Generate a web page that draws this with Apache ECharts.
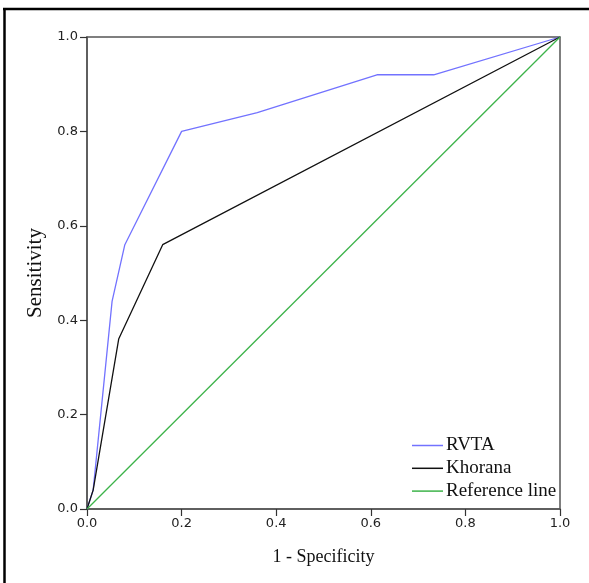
<!DOCTYPE html>
<html>
<head>
<meta charset="utf-8">
<script src="https://cdn.jsdelivr.net/npm/echarts@6/dist/echarts.min.js"></script>
<style>html,body{margin:0;padding:0;background:#fff;}#c{width:589px;height:583px;}</style>
</head>
<body>
<div id="c"></div>
<script>
var rvtaX = [0, 0.013, 0.053, 0.08, 0.2, 0.36, 0.613, 0.733, 1];
var rvtaY = [0, 0.04, 0.44, 0.56, 0.8, 0.84, 0.92, 0.92, 1];
var khoranaX = [0, 0.013, 0.067, 0.16, 1];
var khoranaY = [0, 0.04, 0.36, 0.56, 1];
var refX = [0, 1];
var refY = [0, 1];
var tickLabels = ['0.0', '0.2', '0.4', '0.6', '0.8', '1.0'];

function pairs(xs, ys) { return xs.map(function (x, i) { return [x, ys[i]]; }); }

var chart = echarts.init(document.getElementById('c'), null, {renderer: 'canvas'});
var axisCommon = {
  type: 'value', min: 0, max: 1, interval: 0.2,
  axisLine: {show: true, lineStyle: {color: '#555', width: 1.5}},
  axisTick: {show: true, length: 7, lineStyle: {color: '#333', width: 1.2}},
  splitLine: {show: false},
  axisLabel: {color: '#222', fontSize: 13, fontFamily: 'DejaVu Sans',
    formatter: function (v) { return tickLabels[Math.round(v * 5)]; }},
  nameLocation: 'middle'
};
chart.setOption({
  animation: false,
  grid: {left: 87, top: 37, width: 473, height: 472, show: true, borderColor: '#555', borderWidth: 1.5},
  xAxis: Object.assign({}, axisCommon, {name: '1 - Specificity', nameGap: 39,
    nameTextStyle: {color: '#111', fontSize: 18, fontFamily: 'Liberation Serif'},
    axisLabel: Object.assign({}, axisCommon.axisLabel, {margin: 8})}),
  yAxis: Object.assign({}, axisCommon, {name: 'Sensitivity', nameGap: 37,
    nameTextStyle: {color: '#111', fontSize: 21, fontFamily: 'Liberation Serif'},
    axisLabel: Object.assign({}, axisCommon.axisLabel, {margin: 9})}),
  legend: {
    orient: 'vertical', left: 407, top: 431, itemWidth: 31, itemHeight: 1.5, itemGap: 3.8,
    icon: 'rect',
    textStyle: {color: '#111', fontSize: 19, fontFamily: 'Liberation Serif', padding: [0, 0, 0, -2]},
    data: ['RVTA', 'Khorana', 'Reference line']
  },
  series: [
    {name: 'RVTA', type: 'line', data: pairs(rvtaX, rvtaY), symbol: 'none', itemStyle: {color: '#7272ff'}, lineStyle: {color: '#7272ff', width: 1.3}},
    {name: 'Khorana', type: 'line', data: pairs(khoranaX, khoranaY), symbol: 'none', itemStyle: {color: '#111'}, lineStyle: {color: '#111', width: 1.3}},
    {name: 'Reference line', type: 'line', data: pairs(refX, refY), symbol: 'none', itemStyle: {color: '#3db34a'}, lineStyle: {color: '#3db34a', width: 1.3}}
  ],
  graphic: [
    {type: 'line', shape: {x1: 3, y1: 9, x2: 589, y2: 9}, style: {stroke: '#000', lineWidth: 2.5}},
    {type: 'line', shape: {x1: 4.5, y1: 8, x2: 4.5, y2: 583}, style: {stroke: '#000', lineWidth: 2.5}}
  ]
});
</script>
</body>
</html>
